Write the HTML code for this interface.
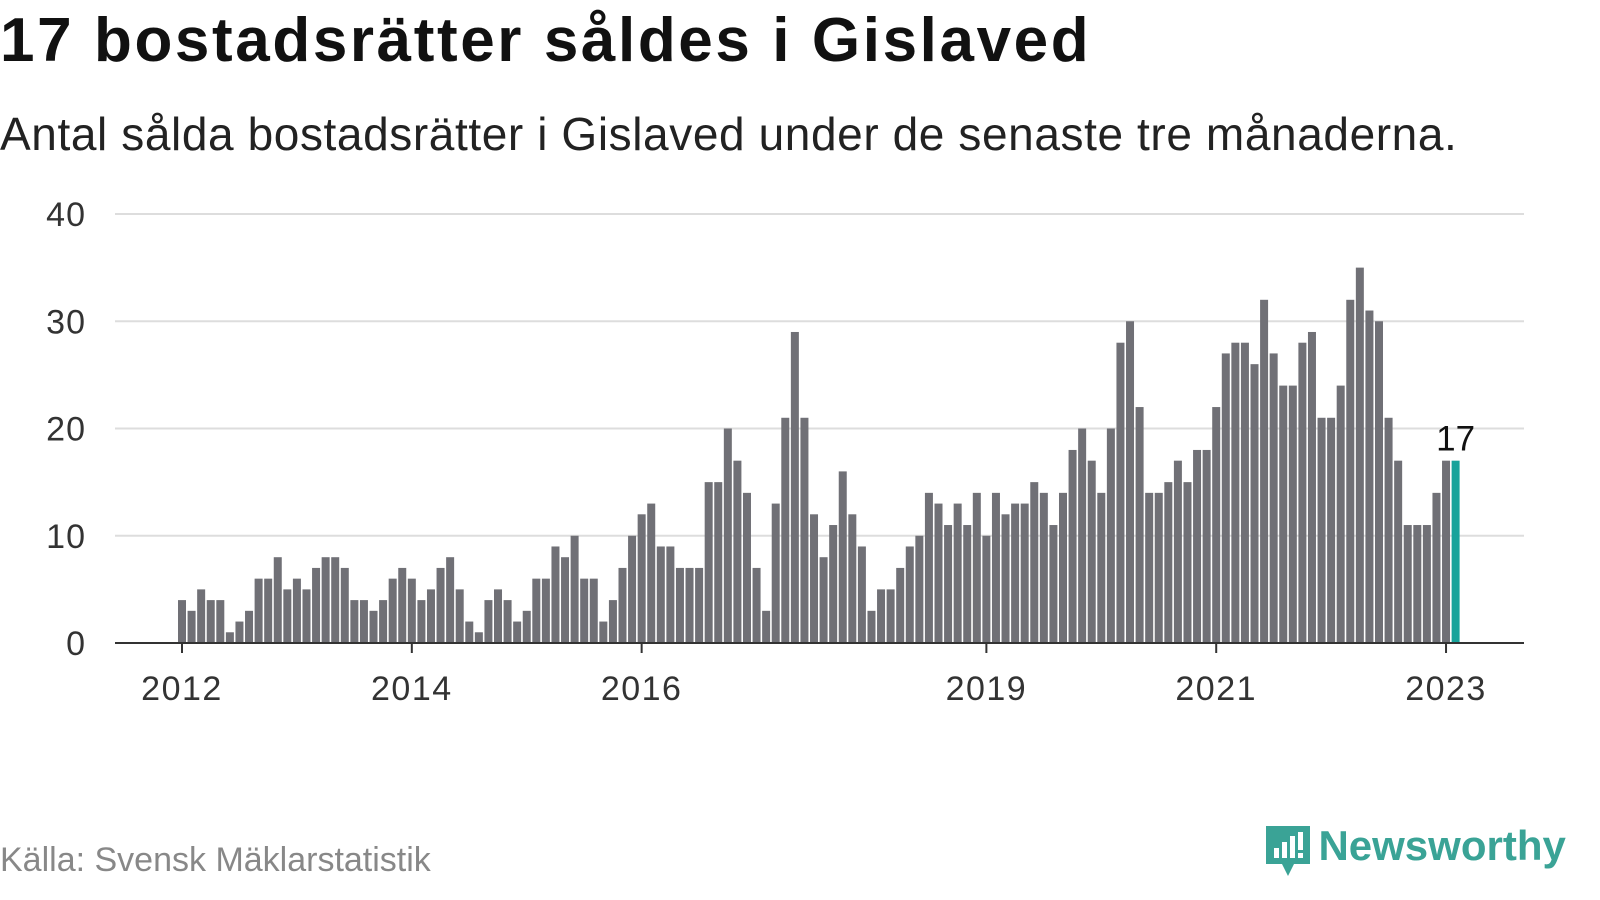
<!DOCTYPE html>
<html><head><meta charset="utf-8"><style>
body{margin:0;width:1600px;height:900px;background:#fff;font-family:"Liberation Sans",sans-serif;overflow:hidden;position:relative}
.t{position:absolute;white-space:nowrap}
</style></head><body>
<div class="t" style="left:0;top:5px;font-size:62px;letter-spacing:2.6px;font-weight:bold;color:#111">17 bostadsrätter såldes i Gislaved</div>
<div class="t" style="left:0;top:107px;font-size:46px;letter-spacing:0.6px;color:#222">Antal sålda bostadsrätter i Gislaved under de senaste tre månaderna.</div>
<svg id="chart" width="1600" height="900" style="position:absolute;left:0;top:0"></svg>
<div class="t" style="left:0;top:841px;font-size:34px;color:#888">Källa: Svensk Mäklarstatistik</div>
<div class="t" style="left:1262px;top:822px;">
<svg width="52" height="60" style="vertical-align:top"><path d="M4 4h44v38H32l-6 12-6-12H4z" fill="#3aa396"/><rect x="12" y="26" width="5" height="10" fill="#fff"/><rect x="20" y="20" width="5" height="16" fill="#fff"/><rect x="28" y="14" width="5" height="22" fill="#fff"/><rect x="36" y="10" width="5" height="18" fill="#fff"/><rect x="36" y="31" width="5" height="5" fill="#fff"/></svg>
<span style="font-size:42px;font-weight:bold;color:#3aa396;position:relative;top:0px">Newsworthy</span></div>
<script>
const values=[4,3,5,4,4,1,2,3,6,6,8,5, 6,5,7,8,8,7,4,4,3,4,6,7, 6,4,5,7,8,5,2,1,4,5,4,2, 3,6,6,9,8,10,6,6,2,4,7,10, 12,13,9,9,7,7,7,15,15,20,17,14, 7,3,13,21,29,21,12,8,11,16,12,9, 3,5,5,7,9,10,14,13,11,13,11,14, 10,14,12,13,13,15,14,11,14,18,20,17, 14,20,28,30,22,14,14,15,17,15,18,18, 22,27,28,28,26,32,27,24,24,28,29,21, 21,24,32,35,31,30,21,17,11,11,11,14, 17,17];
const yTicks=[0,10,20,30,40];
const xTickLabels=["2012","2014","2016","2019","2021","2023"];
const xTickIndex=[0,24,48,84,108,132];
const NS="http://www.w3.org/2000/svg";
const svg=document.getElementById('chart');
const x=i=>182+i*9.576;
const y=v=>643-v*10.725;
function mk(t,a){const e=document.createElementNS(NS,t);for(const k in a)e.setAttribute(k,a[k]);svg.appendChild(e);return e;}
yTicks.forEach(v=>{
  if(v>0){const l=mk('line',{x1:115,x2:1524,y1:y(v),y2:y(v),stroke:'#ddd','stroke-width':2});
  
  }
  const t=mk('text',{x:86,y:y(v)+12,'text-anchor':'end','font-size':34,'letter-spacing':1,fill:'#333','font-family':'Liberation Sans'});
  t.textContent=v;
  
  
});
values.forEach((v,i)=>{
  const last=i===values.length-1;
  const r=mk('rect',{x:x(i)-4,y:y(v),width:8,height:643-y(v),fill:last?'#17a39b':'#707076'});
  
  
});
const ax=mk('line',{x1:115,x2:1524,y1:643,y2:643,stroke:'#333','stroke-width':2});


xTickLabels.forEach((s,k)=>{
  const xi=x(xTickIndex[k]);
  const tk=mk('line',{x1:xi,x2:xi,y1:643,y2:653,stroke:'#333','stroke-width':2});
  
  
  const t=mk('text',{x:xi,y:700,'text-anchor':'middle','font-size':34,'letter-spacing':1.5,fill:'#333','font-family':'Liberation Sans'});
  t.textContent=s;
  
  
});
const li=values.length-1;
const lb=mk('text',{x:x(li),y:y(values[li])-10,'text-anchor':'middle','font-size':35,fill:'#111','font-family':'Liberation Sans'});
lb.textContent=values[li];


</script>
</body></html>
